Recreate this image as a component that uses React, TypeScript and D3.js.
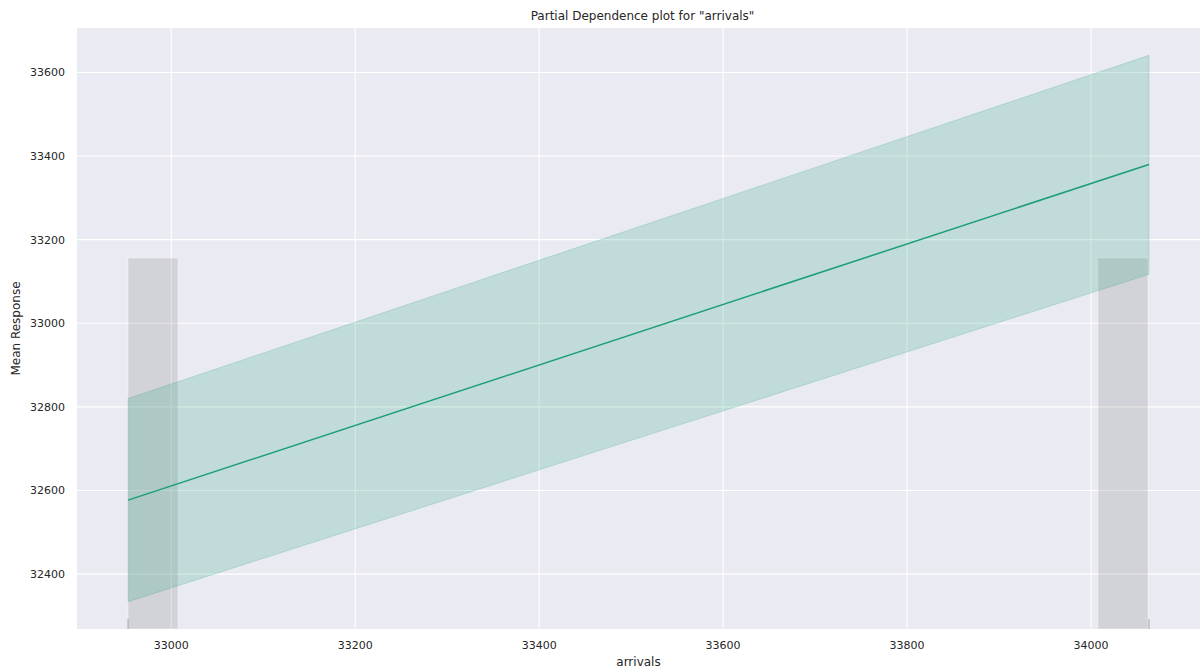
import * as d3 from "d3";
import React, { useEffect, useRef } from "react";

// pdp grid for "arrivals"
const gridValues = [32953, 34063];
const meanResponse = [32577, 33380];
const lowerBound = [32334, 33117];
const upperBound = [32820, 33641];

// histogram of the feature, 20 bins over the grid range
const histCounts = [1, 0, 0, 0, 0, 0, 0, 0, 0, 0, 0, 0, 0, 0, 0, 0, 0, 0, 0, 1];

const xTicks = [33000, 33200, 33400, 33600, 33800, 34000];
const yTicks = [32400, 32600, 32800, 33000, 33200, 33400, 33600];

const W = 1201;
const H = 670;

const App = () => {
  const svgRef = useRef<SVGSVGElement>(null);

  useEffect(() => {
    const margin = { top: 28, right: 1, bottom: 41, left: 77 };
    const width = W - margin.left - margin.right,
      height = H - margin.top - margin.bottom;

    const svg = d3.select(svgRef.current);
    svg.selectAll("*").remove();

    const font = "'DejaVu Sans', sans-serif";
    const textColor = "#262626";

    // matplotlib style 5% margins
    const [xmin, xmax] = d3.extent(gridValues) as [number, number];
    const xPad = (xmax - xmin) * 0.05;
    const ymin = d3.min(lowerBound)!;
    const ymax = d3.max(upperBound)!;
    const yPad = (ymax - ymin) * 0.05;

    const x = d3
      .scaleLinear()
      .domain([xmin - xPad, xmax + xPad])
      .range([0, width]);
    const y = d3
      .scaleLinear()
      .domain([ymin - yPad, ymax + yPad])
      .range([height, 0]);
    const yHist = d3
      .scaleLinear()
      .domain([0, d3.max(histCounts)! * 1.62])
      .range([height, 0]);

    const g = svg
      .append("g")
      .attr("transform", `translate(${margin.left},${margin.top})`);

    g.append("rect")
      .attr("width", width)
      .attr("height", height)
      .attr("fill", "#eaeaf2");

    // grid
    g.selectAll(".vgrid")
      .data(xTicks)
      .enter()
      .append("line")
      .attr("x1", (d) => x(d))
      .attr("x2", (d) => x(d))
      .attr("y1", 0)
      .attr("y2", height)
      .attr("stroke", "#ffffff")
      .attr("stroke-width", 1.1);
    g.selectAll(".hgrid")
      .data(yTicks)
      .enter()
      .append("line")
      .attr("x1", 0)
      .attr("x2", width)
      .attr("y1", (d) => y(d))
      .attr("y2", (d) => y(d))
      .attr("stroke", "#ffffff")
      .attr("stroke-width", 1.1);

    // histogram bars
    const binW = (xmax - xmin) / histCounts.length;
    g.selectAll(".bar")
      .data(histCounts.map((c, i) => ({ c, x0: xmin + i * binW })))
      .enter()
      .filter((d) => d.c > 0)
      .append("rect")
      .attr("x", (d) => x(d.x0))
      .attr("width", (d) => x(d.x0 + binW) - x(d.x0) - 1)
      .attr("y", (d) => yHist(d.c))
      .attr("height", (d) => height - yHist(d.c))
      .attr("fill", "#808080")
      .attr("fill-opacity", 0.22)
      .attr("stroke", "#ffffff")
      .attr("stroke-opacity", 0.25)
      .attr("stroke-width", 1.5);

    // rug marks
    g.selectAll(".rug")
      .data(gridValues)
      .enter()
      .append("line")
      .attr("x1", (d) => x(d))
      .attr("x2", (d) => x(d))
      .attr("y1", height - 10)
      .attr("y2", height)
      .attr("stroke", "#a0a0a8")
      .attr("stroke-width", 1);

    // confidence band
    const idx = d3.range(gridValues.length);
    const area = d3
      .area<number>()
      .x((i) => x(gridValues[i]))
      .y0((i) => y(lowerBound[i]))
      .y1((i) => y(upperBound[i]));
    g.append("path")
      .datum(idx)
      .attr("d", area)
      .attr("fill", "#1b9e77")
      .attr("fill-opacity", 0.2)
      .attr("stroke", "#1b9e77")
      .attr("stroke-opacity", 0.2)
      .attr("stroke-width", 1);

    const line = d3
      .line<number>()
      .x((i) => x(gridValues[i]))
      .y((i) => y(meanResponse[i]));
    g.append("path")
      .datum(idx)
      .attr("d", line)
      .attr("fill", "none")
      .attr("stroke", "#1b9e77")
      .attr("stroke-width", 1.5);

    // tick labels
    g.selectAll(".xt")
      .data(xTicks)
      .enter()
      .append("text")
      .attr("x", (d) => x(d))
      .attr("y", height + 20)
      .attr("text-anchor", "middle")
      .style("font-family", font)
      .style("font-size", "11px")
      .style("fill", textColor)
      .text((d) => d);
    g.selectAll(".yt")
      .data(yTicks)
      .enter()
      .append("text")
      .attr("x", -12)
      .attr("y", (d) => y(d))
      .attr("dy", "0.36em")
      .attr("text-anchor", "end")
      .style("font-family", font)
      .style("font-size", "11px")
      .style("fill", textColor)
      .text((d) => d);

    // labels
    svg
      .append("text")
      .attr("x", margin.left + width / 2)
      .attr("y", H - 4)
      .attr("text-anchor", "middle")
      .style("font-family", font)
      .style("font-size", "12px")
      .style("fill", textColor)
      .text("arrivals");
    svg
      .append("text")
      .attr("transform", `translate(20,${margin.top + height / 2}) rotate(-90)`)
      .attr("text-anchor", "middle")
      .style("font-family", font)
      .style("font-size", "12px")
      .style("fill", textColor)
      .text("Mean Response");
    svg
      .append("text")
      .attr("x", margin.left + width / 2 + 4)
      .attr("y", 20)
      .attr("text-anchor", "middle")
      .style("font-family", font)
      .style("font-size", "12px")
      .style("fill", textColor)
      .text('Partial Dependence plot for "arrivals"');
  }, []);

  return (
    <div style={{ position: "fixed", left: 0, top: 0, background: "#fff" }}>
      <svg ref={svgRef} width={W} height={H} style={{ display: "block" }}></svg>
    </div>
  );
};

export default App;
